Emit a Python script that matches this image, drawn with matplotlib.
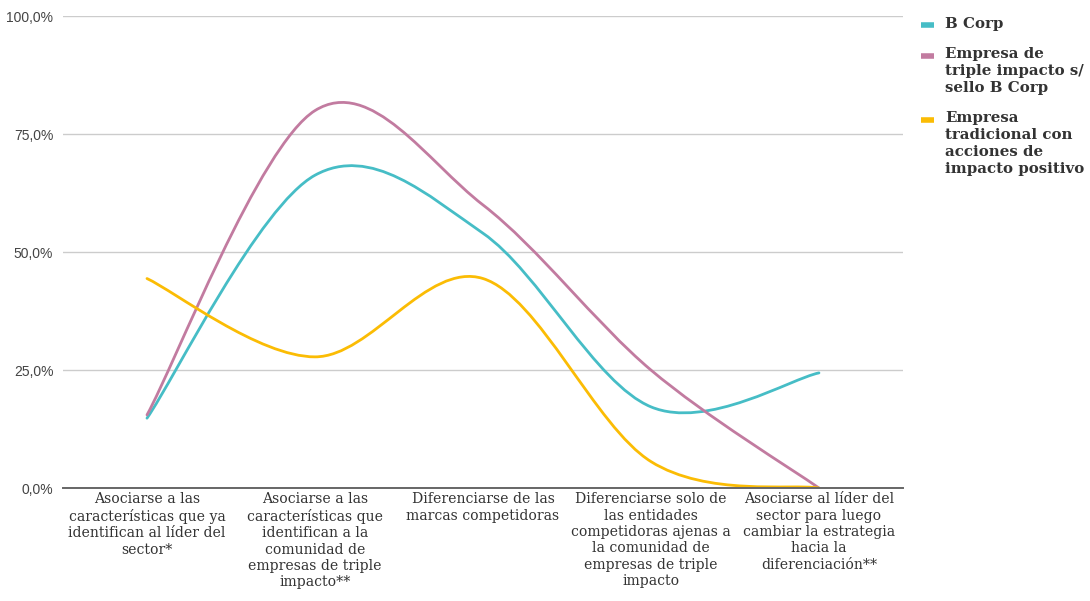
import numpy as np
import matplotlib.pyplot as plt
from matplotlib.path import Path
from matplotlib.patches import PathPatch
from matplotlib.lines import Line2D

# Estrategias de posicionamiento (eje X)
categorias = [
    "Asociarse a las\ncaracterísticas que ya\nidentifican al líder del\nsector*",
    "Asociarse a las\ncaracterísticas que\nidentifican a la\ncomunidad de\nempresas de triple\nimpacto**",
    "Diferenciarse de las\nmarcas competidoras",
    "Diferenciarse solo de\nlas entidades\ncompetidoras ajenas a\nla comunidad de\nempresas de triple\nimpacto",
    "Asociarse al líder del\nsector para luego\ncambiar la estrategia\nhacia la\ndiferenciación**",
]

# Porcentaje de respuestas por tipo de empresa
b_corp = [14.8, 66.3, 54.0, 17.2, 24.4]
triple_impacto = [15.5, 80.0, 60.0, 25.0, 0.0]
tradicional = [44.4, 27.8, 44.4, 5.6, 0.0]

nombres = ["B Corp",
           "Empresa de\ntriple impacto s/\nsello B Corp",
           "Empresa\ntradicional con\nacciones de\nimpacto positivo"]
colores = ["#46BDC6", "#C27BA0", "#FBBC04"]

y_ticks = [0, 25, 50, 75, 100]


def curva_suave(x, y, k=1/6):
    # curva tipo Catmull-Rom con segmentos Bezier cubicos
    pts = np.column_stack([x, y]).astype(float)
    ext = np.vstack([pts[0], pts, pts[-1]])
    verts = [pts[0]]
    codes = [Path.MOVETO]
    for i in range(len(pts) - 1):
        p0, p1, p2, p3 = ext[i], ext[i + 1], ext[i + 2], ext[i + 3]
        verts += [p1 + (p2 - p0) * k, p2 - (p3 - p1) * k, p2]
        codes += [Path.CURVE4] * 3
    return Path(verts, codes)


fig = plt.figure(figsize=(10.9, 6.01), dpi=100)
ax = fig.add_axes([0.0578, 0.188, 0.7706, 0.785])

x = np.arange(len(categorias))
for serie, color in zip([b_corp, triple_impacto, tradicional], colores):
    ax.add_patch(PathPatch(curva_suave(x, serie), facecolor="none",
                           edgecolor=color, lw=2.0, zorder=3,
                           capstyle="round", joinstyle="round"))

ax.set_xlim(-0.5, len(categorias) - 0.5)
ax.set_ylim(0, 100)
ax.set_yticks(y_ticks)
ax.set_yticklabels([f"{v:.1f}%".replace(".", ",") for v in y_ticks],
                   fontfamily="Liberation Sans", fontsize=10, color="#444444")
ax.set_xticks(x)
ax.set_xticklabels(categorias, fontfamily="DejaVu Serif", fontsize=10.1,
                   color="#333333", va="top", ha="center", linespacing=1.22)
ax.tick_params(axis="y", length=0, pad=7)
ax.tick_params(axis="x", length=0, pad=3)

ax.grid(axis="y", color="#cccccc", lw=1)
ax.set_axisbelow(True)
for s in ["top", "right", "left"]:
    ax.spines[s].set_visible(False)
ax.spines["bottom"].set_color("#666666")
ax.spines["bottom"].set_linewidth(1.4)
ax.spines["bottom"].set_zorder(4)

# leyenda a la derecha
tops = [0.972, 0.921, 0.815]
for nombre, color, top in zip(nombres, colores, tops):
    fig.add_artist(Line2D([0.845, 0.857], [top - 0.014, top - 0.014],
                          color=color, lw=4, solid_capstyle="butt"))
    fig.text(0.867, top, nombre, fontfamily="DejaVu Serif", fontweight="bold",
             fontsize=10.8, color="#333333", va="top", ha="left",
             linespacing=1.26)

fig.savefig("out.png", dpi=100)
